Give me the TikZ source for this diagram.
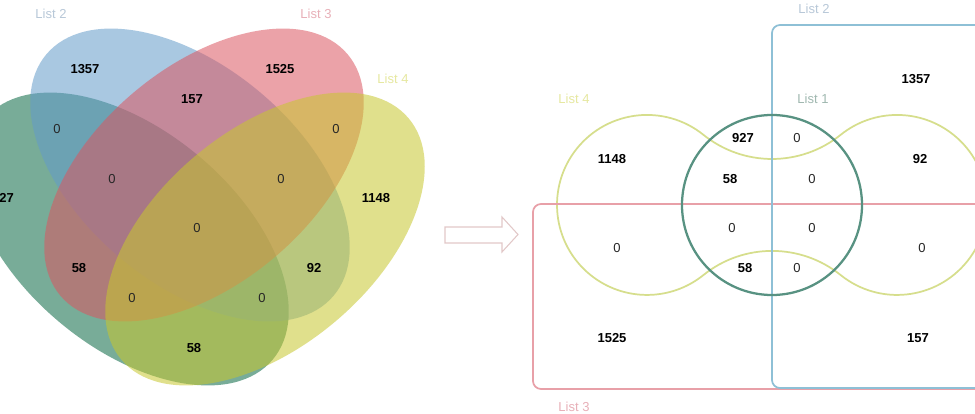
\documentclass[tikz,border=0pt]{standalone}
\usepackage{fontspec}
\setmainfont{Liberation Sans}
\definecolor{vgreen}{RGB}{10,104,68}
\definecolor{vblue}{RGB}{99,155,202}
\definecolor{vred}{RGB}{219,86,97}
\definecolor{vyellow}{RGB}{199,199,46}
\definecolor{rblue}{RGB}{142,192,214}
\definecolor{rred}{RGB}{232,160,168}
\definecolor{ryellow}{RGB}{214,222,140}
\definecolor{rgreen}{RGB}{88,146,130}
\definecolor{lblue}{RGB}{184,200,216}
\definecolor{lred}{RGB}{232,176,184}
\definecolor{lyellow}{RGB}{230,232,160}
\definecolor{lgreen}{RGB}{160,184,176}
\definecolor{arrowc}{RGB}{226,200,200}
\begin{document}
\begin{tikzpicture}[x=0.75pt,y=-0.75pt,
  num/.style={font=\fontsize{9.75}{11}\selectfont\bfseries, inner sep=0pt, text=black},
  zero/.style={font=\fontsize{9.75}{11}\selectfont, inner sep=0pt, text=black!85},
  lbl/.style={font=\fontsize{9.75}{11}\selectfont, inner sep=0pt},
  venn/.style={fill opacity=0.55, draw=none},
  rect/.style={line width=1.3pt, rounded corners=6pt},
]
\useasboundingbox (0,0) rectangle (975,414);
\clip (0,0) rectangle (975,414);
\fill[white] (0,0) rectangle (975,414);

% ---------- left: four-ellipse Venn ----------
\fill[venn, vgreen, rotate around={-40:(129,239)}] (129,239) ellipse [x radius=187.6, y radius=108.4];
\fill[venn, vblue, rotate around={-40:(190,175)}] (190,175) ellipse [x radius=187.6, y radius=108.4];
\fill[venn, vred, rotate around={40:(204,175)}] (204,175) ellipse [x radius=187.6, y radius=108.4];
\fill[venn, vyellow, rotate around={40:(265,239)}] (265,239) ellipse [x radius=187.6, y radius=108.4];

\node[lbl, text=lblue] (l2) at (51,14) {List 2};
\node[lbl, text=lred] (l3) at (316,14) {List 3};
\node[lbl, text=lyellow] (l4) at (393,79) {List 4};

\node[num] (a1357) at (85,69) {1357};
\node[num] (a1525) at (280,69) {1525};
\node[num] (a157) at (192,99) {157};
\node[zero] (a0a) at (57,129) {0};
\node[zero] (a0b) at (336,129) {0};
\node[zero] (a0c) at (112,179) {0};
\node[zero] (a0d) at (281,179) {0};
\node[num] (a927) at (3,198) {927};
\node[num] (a1148) at (376,198) {1148};
\node[zero] (a0e) at (197,228) {0};
\node[num] (a58a) at (79,268) {58};
\node[num] (a92) at (314,268) {92};
\node[zero] (a0f) at (132,298) {0};
\node[zero] (a0g) at (262,298) {0};
\node[num] (a58b) at (194,348) {58};

% ---------- hollow arrow ----------
\draw[arrowc, line width=0.8pt, line join=miter] (445,227) -- (502,227) -- (502,217) -- (518,234.5) -- (502,252) -- (502,243) -- (445,243) -- cycle;

% ---------- right: rectangles and circles ----------
\draw[ryellow, line width=1.3pt]
  (703.4,134.8) arc[start angle=-51.2, end angle=-308.8, radius=90]
  arc[start angle=231.2, end angle=308.8, radius=109.56]
  arc[start angle=128.8, end angle=-128.8, radius=90]
  arc[start angle=51.2, end angle=128.8, radius=109.56] -- cycle;
\draw[rect, rred] (533,204) rectangle (1010,389);
\draw[rect, rblue] (772,25) rectangle (1010,388);
\draw[rgreen, line width=1.7pt] (772,205) circle [radius=90];

\node[lbl, text=lblue] (r2) at (814,9) {List 2};
\node[lbl, text=lyellow] (r4) at (574,99) {List 4};
\node[lbl, text=lgreen] (r1) at (813,99) {List 1};
\node[lbl, text=lred] (r3) at (574,407) {List 3};

\node[num] (b1357) at (916,79) {1357};
\node[num] (b927) at (743,138) {927};
\node[zero] (b0a) at (797,138) {0};
\node[num] (b1148) at (612,159) {1148};
\node[num] (b92) at (920,159) {92};
\node[num] (b58a) at (730,179) {58};
\node[zero] (b0b) at (812,179) {0};
\node[zero] (b0c) at (732,228) {0};
\node[zero] (b0d) at (812,228) {0};
\node[zero] (b0e) at (617,248) {0};
\node[zero] (b0f) at (922,248) {0};
\node[num] (b58b) at (745,268) {58};
\node[zero] (b0g) at (797,268) {0};
\node[num] (b1525) at (612,338) {1525};
\node[num] (b157) at (918,338) {157};
\end{tikzpicture}
\end{document}
